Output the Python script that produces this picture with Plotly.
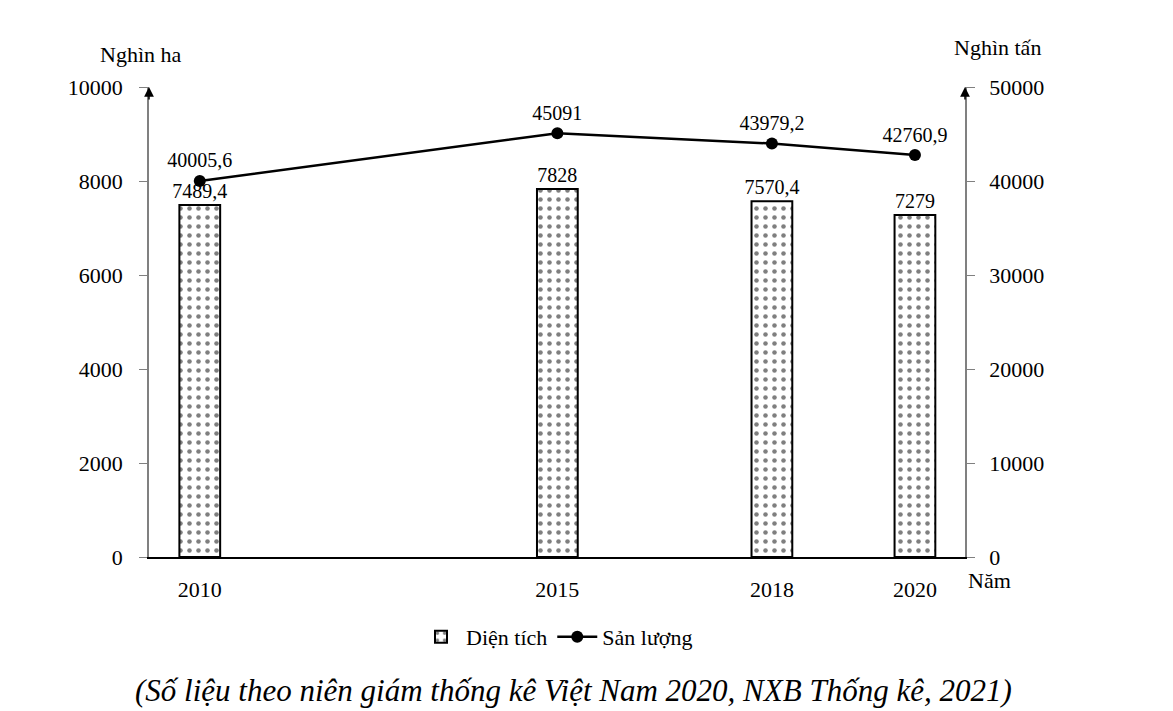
import plotly.graph_objects as go

# so lieu
years = [2010, 2015, 2018, 2020]
dien_tich = [7489.4, 7828, 7570.4, 7279]          # nghin ha
san_luong = [40005.6, 45091, 43979.2, 42760.9]    # nghin tan
left_ticks = [0, 2000, 4000, 6000, 8000, 10000]
right_ticks = [0, 10000, 20000, 30000, 40000, 50000]


def vn(v):
    return str(v).replace('.', ',')


font_name = "Liberation Serif"


def f(size):
    return dict(family=font_name, size=size, color="black")


fig = go.Figure()
fig.add_trace(go.Bar(
    x=years, y=dien_tich, name="Diện tích",
    width=0.57,
    marker=dict(color="white", line=dict(color="black", width=2),
                pattern=dict(shape=".", fgcolor="black", bgcolor="white",
                             size=9, solidity=0.2)),
    text=[vn(v) for v in dien_tich], textposition="outside", constraintext="none",
    textfont=f(20), cliponaxis=False,
))
fig.add_trace(go.Scatter(
    x=years, y=san_luong, name="Sản lượng", yaxis="y2",
    mode="lines+markers+text",
    line=dict(color="black", width=2.5),
    marker=dict(color="black", size=12),
    text=[vn(v) for v in san_luong], textposition="top center",
    textfont=f(20), cliponaxis=False,
))

fig.update_layout(
    width=1173, height=711,
    margin=dict(l=141, r=216, t=79, b=162),
    plot_bgcolor="white", paper_bgcolor="white",
    font=f(20),
    showlegend=True,
    legend=dict(orientation="h", x=0.5, xanchor="center", y=-0.17, yanchor="middle",
                font=f(22), traceorder="normal", itemwidth=40),
    xaxis=dict(range=[2009.29, 2020.70], tickvals=years, ticktext=[str(y) for y in years],
               showline=True, linecolor="black", linewidth=2, ticks="",
               ticklabelstandoff=12, tickfont=f(22), showgrid=False, zeroline=False),
    yaxis=dict(range=[0, 10000], tickvals=left_ticks, tickformat="d", showline=True,
               linecolor="#808080", linewidth=1.5, ticks="outside", ticklen=8,
               tickcolor="#808080", ticklabelstandoff=12, tickfont=f(22),
               showgrid=False, zeroline=False),
    yaxis2=dict(range=[0, 50000], tickvals=right_ticks, tickformat="d", overlaying="y",
                side="right", showline=True, linecolor="#808080", linewidth=1.5,
                ticks="outside", ticklen=8, tickcolor="#808080", ticklabelstandoff=10,
                tickfont=f(22), showgrid=False, zeroline=False),
    annotations=[
        dict(text="Nghìn ha", x=-0.01, y=1.07, xref="paper", yref="paper",
             xanchor="center", yanchor="middle", showarrow=False, font=f(22)),
        dict(text="Nghìn tấn", x=1.04, y=1.085, xref="paper", yref="paper",
             xanchor="center", yanchor="middle", showarrow=False, font=f(22)),
        dict(text="Năm", x=1.03, y=-0.05, xref="paper", yref="paper",
             xanchor="center", yanchor="middle", showarrow=False, font=f(22)),
        dict(text="<i>(Số liệu theo niên giám thống kê Việt Nam 2020, NXB Thống kê, 2021)</i>",
             x=0.52, y=-0.283, xref="paper", yref="paper", xanchor="center",
             yanchor="middle", showarrow=False, font=f(31)),
        dict(text="", x=0, y=1, xref="paper", yref="paper", showarrow=True,
             ax=0, ay=14, arrowhead=2, arrowsize=1.3, arrowwidth=1.5, arrowcolor="black"),
        dict(text="", x=1, y=1, xref="paper", yref="paper", showarrow=True,
             ax=0, ay=14, arrowhead=2, arrowsize=1.3, arrowwidth=1.5, arrowcolor="black"),
    ],
)

fig.write_html("out.html")
